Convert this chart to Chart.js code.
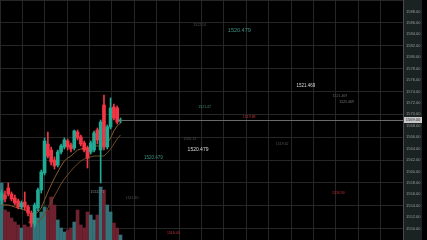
<!DOCTYPE html>
<html>
<head>
<meta charset="utf-8">
<script src="https://cdn.jsdelivr.net/npm/chart.js@4.4.1/dist/chart.umd.min.js"></script>
<style>
  html, body { margin: 0; padding: 0; background: #000; }
</style>
</head>
<body>
<canvas id="priceChart" width="427" height="240"></canvas>
<script>
// candle data, oldest first
const opens  = [1555.00,1555.88,1557.10,1556.05,1555.35,1554.83,1553.78,1554.65,1553.78,1552.73,
                1550.80,1553.60,1556.75,1559.73,1564.80,1563.75,1562.00,1561.13,1563.40,1564.28,
                1565.33,1564.63,1564.10,1566.90,1566.03,1564.98,1564.10,1563.40,1563.75,1567.25,
                1563.75,1571.63,1564.28,1567.78,1571.28,1571.10,1568.83];
const highs  = [1556.75,1556.58,1557.98,1556.40,1555.88,1555.18,1554.83,1556.40,1554.13,1553.08,
                1554.48,1557.10,1560.25,1565.85,1566.90,1564.28,1562.53,1563.75,1564.80,1565.85,
                1565.68,1564.98,1567.25,1567.25,1566.38,1565.33,1564.45,1565.33,1567.08,1567.60,
                1569.00,1573.38,1568.13,1572.85,1571.80,1571.45,1569.35];
const lows   = [1554.30,1554.65,1555.70,1554.83,1554.13,1553.43,1553.43,1553.25,1552.20,1550.28,
                1550.28,1553.08,1556.23,1559.38,1562.35,1561.13,1560.43,1560.78,1563.05,1563.93,
                1563.75,1563.40,1563.75,1565.50,1564.45,1563.40,1560.60,1563.05,1563.40,1564.80,
                1557.98,1563.75,1563.93,1567.43,1569.00,1568.30,1568.48];
const closes = [1556.23,1555.18,1556.05,1555.18,1554.48,1553.78,1554.48,1553.78,1552.73,1550.98,
                1554.13,1556.75,1559.90,1565.33,1562.70,1561.65,1560.95,1563.40,1564.45,1565.50,
                1564.28,1563.93,1567.08,1565.85,1564.80,1563.75,1562.35,1564.98,1566.73,1565.50,
                1568.65,1564.28,1567.78,1571.10,1569.35,1568.65,1569.00];
const volumes = [570,300,280,220,180,150,120,150,130,200,
                 160,220,280,330,300,430,350,200,120,80,
                 100,120,180,300,150,120,280,250,200,250,
                 530,500,350,280,170,120,50];

// moving averages
const maFast = [1554.13,1554.13,1554.13,1553.95,1553.78,1553.60,1553.43,1553.25,1552.90,1552.55,
                1552.55,1552.90,1553.60,1555.00,1556.40,1557.63,1558.85,1559.90,1560.95,1561.83,
                1562.35,1562.70,1563.23,1563.75,1563.93,1564.10,1564.10,1564.28,1564.45,1564.45,
                1564.45,1564.63,1564.98,1565.85,1567.08,1567.95,1568.48];
const maSlow = [null,null,null,null,null,null,null,null,1551.15,1550.80,
                1550.80,1551.15,1551.68,1552.55,1553.60,1554.65,1555.70,1556.75,1557.80,1558.68,
                1559.38,1560.08,1560.78,1561.30,1561.83,1562.18,1562.35,1562.53,1562.70,1562.70,
                1562.70,1562.70,1563.23,1563.93,1564.80,1565.68,1566.38];

// floating price notes: text, bar position, price
const noteText  = ['1520.479','1521.469','1520.479','1520.479','1521.469','1521.469','1522.14',
                   '1521.47','1519.88','1520.12','1519.62','1518.90','1518.40','1511.71','1512.30'];
const noteBar   = [72, 92.2, 59.5, 46, 102.5, 104.5, 60, 61.5, 75, 57, 85, 102, 52, 29, 39.5];
const notePrice = [1584.6,1575.0,1563.9,1562.4,1573.2,1572.1,1585.6,1571.3,1569.5,1565.7,1564.8,1556.2,1549.2,1556.4,1555.3];

const UP = '#22ab94', DOWN = '#f23645';
const noteStyle = [
  ['#3f8f7f', 5.5], ['#d8d8d8', 4.5], ['#d8d8d8', 5], ['#3f8f7f', 4.5], ['#666', 3.5], ['#777', 3.5],
  ['#555', 3.5], ['#3f8f7f', 3.5], ['#c0303a', 3.5], ['#555', 3.5], ['#555', 3.5], ['#c0303a', 3.5],
  ['#c0303a', 3.5], ['#888', 4], ['#555', 3.5]
];

const isUp = opens.map((o, i) => closes[i] >= o);
const candleColors = isUp.map(u => u ? UP : DOWN);
const volColors = isUp.map(u => u ? '#33737a' : '#6e2230');

const overlay = {
  id: 'overlay',
  beforeDraw(chart) {
    const { ctx, chartArea } = chart;
    ctx.save();
    ctx.fillStyle = '#000';
    ctx.fillRect(0, 0, chart.width, chart.height);
    ctx.fillStyle = '#1a2222';
    ctx.fillRect(chartArea.right, 0, 19, chart.height);
    ctx.restore();
  },
  afterDatasetsDraw(chart) {
    const { ctx, chartArea, scales } = chart;
    const last = closes.length - 1;
    const py = Math.round(scales.y.getPixelForValue(closes[last])) + 0.5;
    ctx.save();
    ctx.strokeStyle = '#6a6a6a';
    ctx.lineWidth = 1;
    ctx.beginPath();
    ctx.moveTo(scales.x.getPixelForValue(last), py);
    ctx.lineTo(chartArea.right, py);
    ctx.stroke();
    ctx.textAlign = 'center';
    ctx.textBaseline = 'middle';
    noteText.forEach((t, i) => {
      ctx.fillStyle = noteStyle[i][0];
      ctx.font = noteStyle[i][1] + 'px "Liberation Sans"';
      ctx.fillText(t, scales.x.getPixelForValue(noteBar[i]), scales.y.getPixelForValue(notePrice[i]));
    });
    ctx.restore();
  },
  afterDraw(chart) {
    const { ctx, chartArea, scales } = chart;
    const price = closes[closes.length - 1];
    const py = scales.y.getPixelForValue(price);
    ctx.save();
    ctx.fillStyle = '#c8c8c8';
    ctx.fillRect(chartArea.right + 1, py - 3, 18, 6);
    ctx.fillStyle = '#222';
    ctx.font = '4px "Liberation Sans"';
    ctx.textAlign = 'center';
    ctx.textBaseline = 'middle';
    ctx.fillText(price.toFixed(2), chartArea.right + 10, py);
    ctx.restore();
  }
};

const noPad = s => { s.paddingTop = 0; s.paddingBottom = 0; s.paddingLeft = 0; s.paddingRight = 0; };

const ctx = document.getElementById('priceChart').getContext('2d');
Chart.defaults.font.family = '"Liberation Sans", sans-serif';

new Chart(ctx, {
  type: 'bar',
  data: {
    datasets: [
      {
        label: 'Bodies',
        data: opens.map((o, i) => ({ x: i, y: [o, closes[i]] })),
        backgroundColor: candleColors,
        barThickness: 3,
        minBarLength: 1,
        grouped: false,
        order: 1
      },
      {
        label: 'Wicks',
        data: lows.map((l, i) => ({ x: i, y: [l, highs[i]] })),
        backgroundColor: candleColors,
        barThickness: 1,
        grouped: false,
        order: 2
      },
      {
        label: 'MA fast',
        type: 'line',
        data: maFast.map((v, i) => ({ x: i, y: v })),
        borderColor: '#8a5a26',
        borderWidth: 1,
        pointRadius: 0,
        order: 3
      },
      {
        label: 'MA slow',
        type: 'line',
        data: maSlow.map((v, i) => ({ x: i, y: v })),
        borderColor: '#6e4a22',
        borderWidth: 1,
        pointRadius: 0,
        order: 3
      },
      {
        label: 'Volume',
        data: volumes.map((v, i) => ({ x: i, y: v })),
        backgroundColor: volColors,
        barThickness: 3,
        grouped: false,
        yAxisID: 'yv',
        order: 4
      }
    ]
  },
  options: {
    responsive: false,
    animation: false,
    layout: { autoPadding: false, padding: { left: 0, right: 5, top: 0, bottom: 0 } },
    plugins: { legend: { display: false }, tooltip: { enabled: false } },
    scales: {
      x: {
        type: 'linear',
        min: -0.5,
        max: 121.6,
        offset: false,
        display: false
      },
      xg: {
        type: 'linear',
        min: 0,
        max: 18,
        offset: false,
        position: 'bottom',
        ticks: { display: false, stepSize: 1 },
        grid: { color: '#262626', drawTicks: false, offset: false },
        border: { display: false },
        afterFit: s => { s.height = 0; noPad(s); }
      },
      y: {
        position: 'right',
        min: 1548,
        max: 1590,
        ticks: {
          stepSize: 2,
          color: '#9a9a9a',
          font: { size: 4 },
          padding: 3,
          callback: v => (v === 1590 || v === 1548) ? '' : v.toFixed(2)
        },
        grid: {
          color: c => (c.tick && c.tick.value % 4 === 2) ? '#262626' : 'rgba(0,0,0,0)',
          drawTicks: false
        },
        border: { color: '#4a4a4a' },
        afterFit: s => { s.width = 19; noPad(s); }
      },
      yv: {
        min: 0,
        max: 2400,
        display: false
      }
    }
  },
  plugins: [overlay]
});
</script>
</body>
</html>
